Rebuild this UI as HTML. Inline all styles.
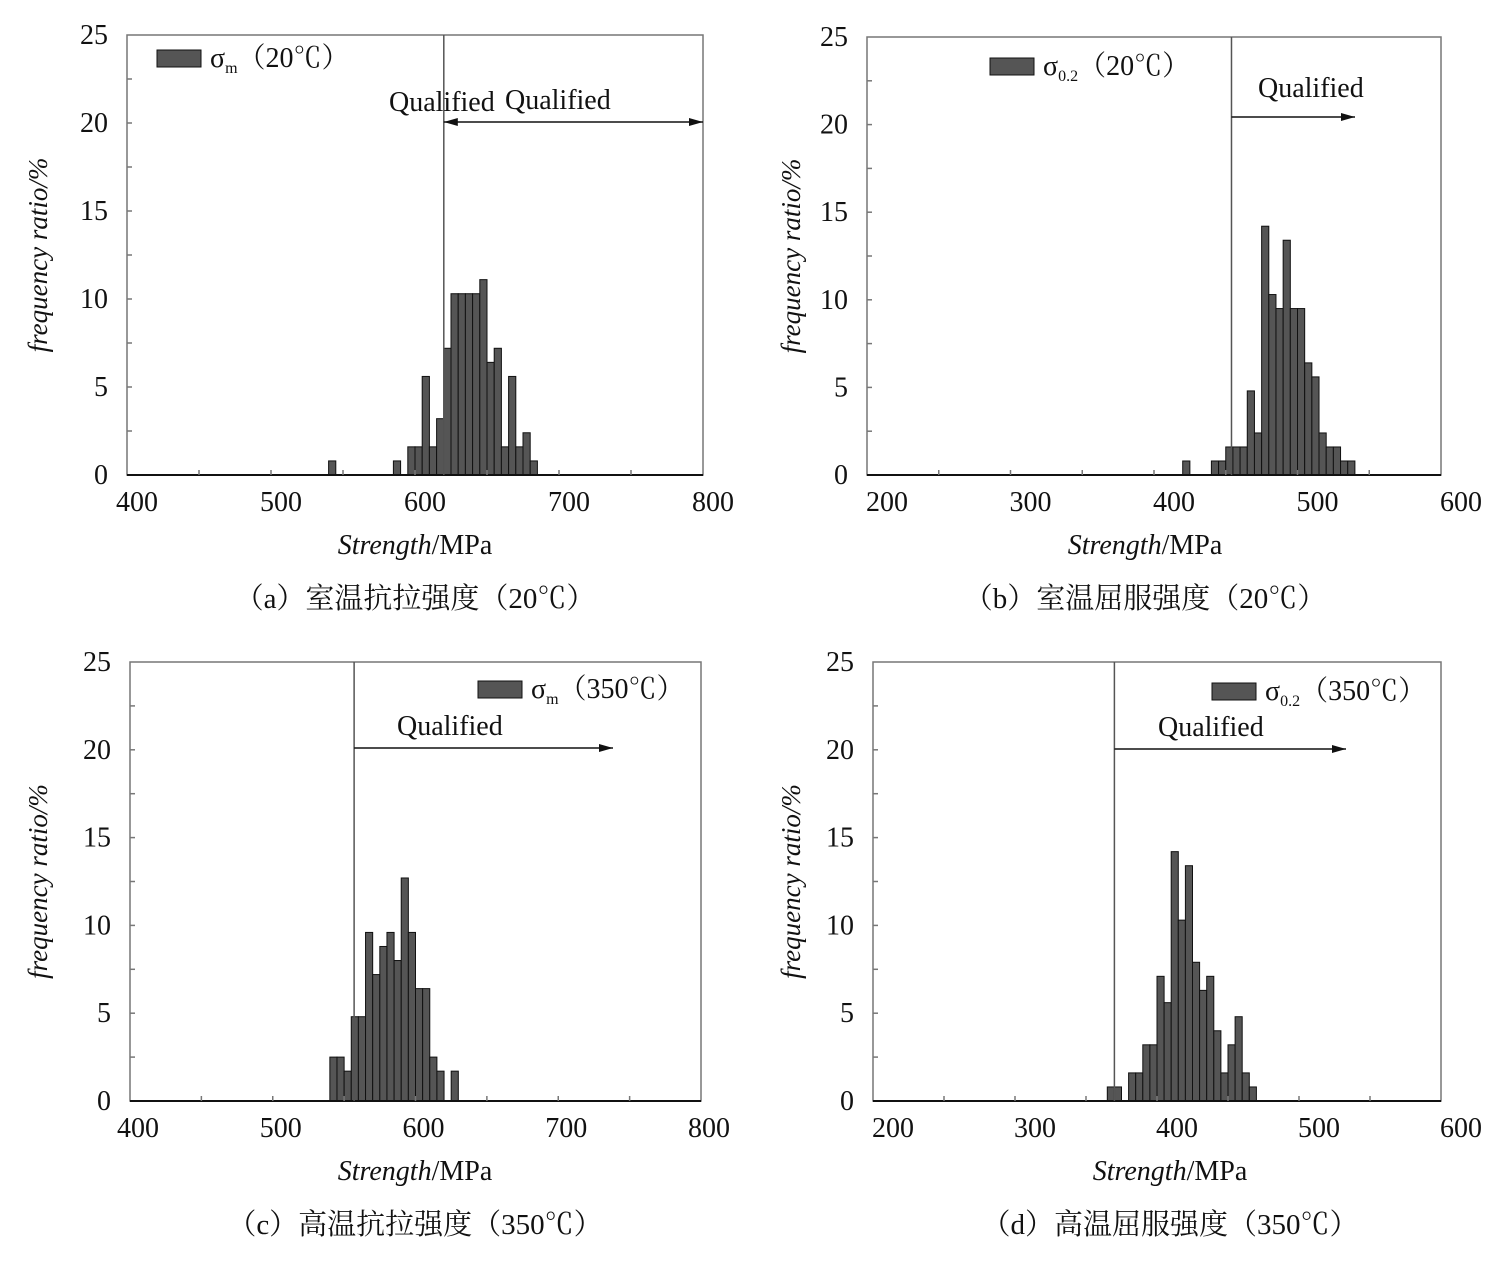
<!DOCTYPE html>
<html><head><meta charset="utf-8">
<style>
html,body{margin:0;padding:0;background:#fff;}
svg{display:block;}
text{font-family:"Liberation Serif","Noto Serif CJK SC",serif;fill:#111;}
</style></head>
<body>
<svg id="chart" width="1492" height="1268" viewBox="0 0 1492 1268" xmlns="http://www.w3.org/2000/svg"></svg>
<script>
// Panel (a) data: bin starts (MPa) and frequency ratio (%)
const binsA = [540,585,595,600,605,610,615,620,625,630,635,640,645,650,655,660,665,670,675,680];
const valsA = [0.8,0.8,1.6,1.6,5.6,1.6,3.2,7.2,10.3,10.3,10.3,10.3,11.1,6.4,7.2,1.6,5.6,1.6,2.4,0.8];
// Panel (b)
const binsB = [420,440,445,450,455,460,465,470,475,480,485,490,495,500,505,510,515,520,525,530,535];
const valsB = [0.8,0.8,0.8,1.6,1.6,1.6,4.8,2.4,14.2,10.3,9.5,13.4,9.5,9.5,6.4,5.6,2.4,1.6,1.6,0.8,0.8];
// Panel (c)
const binsC = [540,545,550,555,560,565,570,575,580,585,590,595,600,605,610,615,625];
const valsC = [2.5,2.5,1.7,4.8,4.8,9.6,7.2,8.8,9.6,8.0,12.7,9.6,6.4,6.4,2.5,1.7,1.7];
// Panel (d)
const binsD = [365,370,380,385,390,395,400,405,410,415,420,425,430,435,440,445,450,455,460,465];
const valsD = [0.8,0.8,1.6,1.6,3.2,3.2,7.1,5.6,14.2,10.3,13.4,7.9,6.3,7.1,4.0,1.6,3.2,4.8,1.6,0.8];
const yTicks = [0,5,10,15,20,25];
const xTicksAC = [400,500,600,700,800];
const xTicksBD = [200,300,400,500,600];
const qualA = 620, qualB = 454, qualC = 557, qualD = 370;

const NS = "http://www.w3.org/2000/svg";
const svg = document.getElementById('chart');
function mk(tag, attrs, parent){
  const e = document.createElementNS(NS, tag);
  for (const k in attrs) e.setAttribute(k, attrs[k]);
  (parent||svg).appendChild(e);
  return e;
}

function panel(p){
  const g = mk('g', {});
  
  
  const X = v => p.x0 + (v - p.xmin) / (p.xmax - p.xmin) * (p.x1 - p.x0);
  const Y = v => p.y1 - v / 25 * (p.y1 - p.y0);
  // bars
  for (let i = 0; i < p.bins.length; i++) {
    const xa = X(p.bins[i]), xb = X(p.bins[i] + 5);
    const r = mk('rect', {x: xa, y: Y(p.vals[i]), width: xb - xa, height: Y(0) - Y(p.vals[i]), fill: '#555', stroke: '#111', 'stroke-width': 1}, g);
    
    
  }
  // frame
  const fr = mk('rect', {x: p.x0, y: p.y0, width: p.x1 - p.x0, height: p.y1 - p.y0, fill: 'none', stroke: '#777', 'stroke-width': 1.5}, g);
  
  
  // x axis line
  const ax = mk('line', {x1: p.x0, x2: p.x1, y1: p.y1, y2: p.y1, stroke: '#111', 'stroke-width': 2}, g);
  
  
  // y minor ticks
  for (let v = 2.5; v < 25; v += 2.5) {
    mk('line', {x1: p.x0, x2: p.x0 + 5, y1: Y(v), y2: Y(v), stroke: '#777', 'stroke-width': 1.5}, g);
  }
  const step = (p.xmax - p.xmin) / 8;
  for (let v = p.xmin + step; v < p.xmax; v += step) {
    mk('line', {x1: X(v), x2: X(v), y1: p.y1, y2: p.y1 - 5, stroke: '#777', 'stroke-width': 1.5}, g);
  }
  // y tick labels
  yTicks.forEach(v => {
    const t = mk('text', {x: p.x0 - 19, y: Y(v) + 9, 'text-anchor': 'end', 'font-size': 28}, g);
    t.textContent = v;
    
    
  });
  p.xticks.forEach(v => {
    const t = mk('text', {x: X(v) + p.xlabOff, y: p.y1 + 36, 'text-anchor': 'middle', 'font-size': 28}, g);
    t.textContent = v;
    
    
  });
  // qualified line
  const qx = X(p.qual);
  const ql = mk('line', {x1: qx, x2: qx, y1: p.y0, y2: p.y1, stroke: '#555', 'stroke-width': 1.5}, g);
  
  
  const ar = mk('line', {x1: qx, x2: p.arrowEnd, y1: p.arrowY, y2: p.arrowY, stroke: '#111', 'stroke-width': 1.5}, g);
  
  
  mk('polygon', {points: `${p.arrowEnd},${p.arrowY} ${p.arrowEnd-14},${p.arrowY-4} ${p.arrowEnd-14},${p.arrowY+4}`, fill: '#111'}, g);
  if (p.both) mk('polygon', {points: `${qx},${p.arrowY} ${qx+14},${p.arrowY-4} ${qx+14},${p.arrowY+4}`, fill: '#111'}, g);
  p.qtexts.forEach(q => {
    const t = mk('text', {x: q[0], y: q[1], 'font-size': 28}, g);
    t.textContent = 'Qualified';
    
    
  });
  // legend
  const lg = mk('g', {}, g);
  
  
  mk('rect', {x: p.leg[0], y: p.leg[1], width: 44, height: 17, fill: '#555', stroke: '#111', 'stroke-width': 1}, lg);
  const lt = mk('text', {x: p.leg[0] + 53, y: p.leg[1] + 17, 'font-size': 28}, lg);
  lt.innerHTML = 'σ<tspan font-size="16" dy="6">' + p.sub + '</tspan><tspan dy="-6">（' + p.temp + '℃）</tspan>';
  // axis titles
  const yt = mk('text', {x: 0, y: 0, 'font-size': 27, 'font-style': 'italic', 'text-anchor': 'middle', transform: `translate(${p.ytx},${(p.y0+p.y1)/2}) rotate(-90)`}, g);
  yt.textContent = 'frequency ratio/%';
  
  
  const xt = mk('text', {x: p.xtx, y: p.y1 + 79, 'font-size': 28, 'text-anchor': 'middle'}, g);
  xt.innerHTML = '<tspan font-style="italic">Strength</tspan>/MPa';
  
  
  const cp = mk('text', {x: p.xtx, y: p.y1 + 133, 'font-size': 29, 'text-anchor': 'middle'}, g);
  cp.textContent = p.caption;
  
  
}

panel({name:'panel-a', bins:binsA, vals:binsA.length?valsA:[], x0:127, x1:703, y0:35, y1:475, xmin:400, xmax:800, xticks:xTicksAC, xlabOff:10,
  qual:qualA, arrowY:122, arrowEnd:703, both:true, qtexts:[[389,111],[505,109]], leg:[157,50], sub:'m', temp:'20',
  ytx:47, xtx:415, caption:'（a）室温抗拉强度（20℃）'});
panel({name:'panel-b', bins:binsB, vals:valsB, x0:867, x1:1441, y0:37, y1:475, xmin:200, xmax:600, xticks:xTicksBD, xlabOff:20,
  qual:qualB, arrowY:117, arrowEnd:1355, both:false, qtexts:[[1258,97]], leg:[990,58], sub:'0.2', temp:'20',
  ytx:800, xtx:1145, caption:'（b）室温屈服强度（20℃）'});
panel({name:'panel-c', bins:binsC, vals:valsC, x0:130, x1:701, y0:662, y1:1101, xmin:400, xmax:800, xticks:xTicksAC, xlabOff:8,
  qual:qualC, arrowY:748, arrowEnd:613, both:false, qtexts:[[397,735]], leg:[478,681], sub:'m', temp:'350',
  ytx:47, xtx:415, caption:'（c）高温抗拉强度（350℃）'});
panel({name:'panel-d', bins:binsD, vals:valsD, x0:873, x1:1441, y0:662, y1:1101, xmin:200, xmax:600, xticks:xTicksBD, xlabOff:20,
  qual:qualD, arrowY:749, arrowEnd:1346, both:false, qtexts:[[1158,736]], leg:[1212,683], sub:'0.2', temp:'350',
  ytx:800, xtx:1170, caption:'（d）高温屈服强度（350℃）'});
</script>
</body></html>
